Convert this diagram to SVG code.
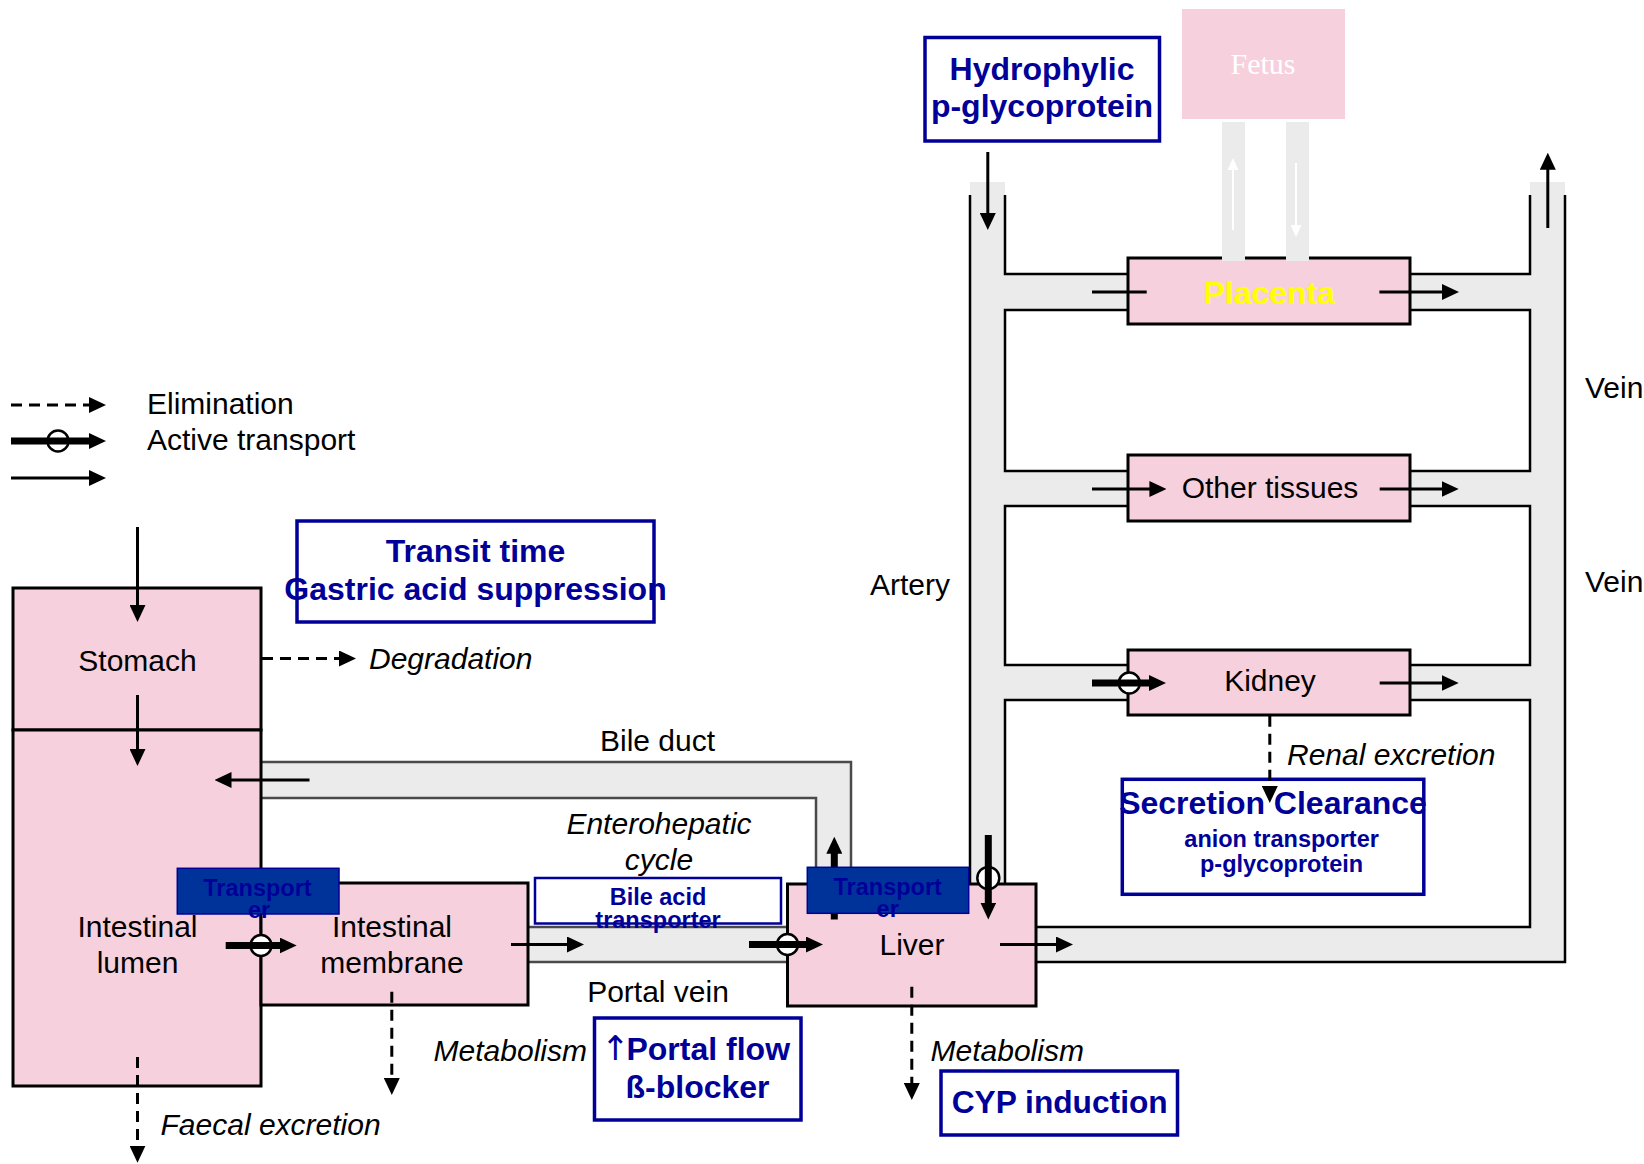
<svg xmlns="http://www.w3.org/2000/svg" width="1644" height="1164" viewBox="0 0 1644 1164">
<defs>
<marker id="ah" markerWidth="17" markerHeight="16" refX="5" refY="8" orient="auto" markerUnits="userSpaceOnUse"><path d="M0,0 L17,8 L0,16 Z" fill="#000"/></marker>
<marker id="wh" markerWidth="12" markerHeight="11" refX="4" refY="5.5" orient="auto" markerUnits="userSpaceOnUse"><path d="M0,0 L12,5.5 L0,11 Z" fill="#fff"/></marker>
</defs>
<style>
.t{font-family:"Liberation Sans",Arial,sans-serif;font-size:30px;fill:#000}
.i{font-style:italic}
.c{text-anchor:middle}
.e{text-anchor:end}
.b{font-family:"Liberation Sans",Arial,sans-serif;font-weight:bold;fill:#000099;text-anchor:middle}
.b32{font-size:32px}
.b24{font-size:23.5px}
.box{fill:#F7D0DD;stroke:#000;stroke-width:3}
.band{fill:#EBEBEB;stroke:none}
.wall{fill:none;stroke:#000;stroke-width:2.5}
.duct{fill:none;stroke:#4a4a4a;stroke-width:2.5}
.note{fill:#fff;stroke:#000099;stroke-width:3.5}
.tr{fill:#003399;stroke:#000099;stroke-width:1.5}
.a{stroke:#000;stroke-width:3;fill:none;marker-end:url(#ah)}
.p{stroke:#000;stroke-width:3;fill:none}
.d{stroke-dasharray:11 7}
.k{stroke-width:7}
.ring{fill:#fff;stroke:#000;stroke-width:2.5}
.wa{stroke:#fff;stroke-width:2;fill:none;marker-end:url(#wh)}
</style>
<rect width="1644" height="1164" fill="#fff"/>

<!-- vessels / ducts -->
<g id="bile-duct">
<path class="band" d="M261,762 H851 V884 H816 V798 H261 Z"/>
<path class="duct" d="M261,762 H851 V884"/>
<path class="duct" d="M261,798 H816 V884"/>
</g>
<g id="portal-vein">
<rect class="band" x="528" y="927" width="260" height="35"/>
<path class="duct" d="M528,927 H788 M528,962 H788"/>
</g>
<g id="circulation">
<rect class="band" x="970" y="182" width="35" height="702"/>
<rect class="band" x="1530" y="182" width="35" height="780"/>
<rect class="band" x="1005" y="274" width="525" height="36"/>
<rect class="band" x="1005" y="471" width="525" height="35"/>
<rect class="band" x="1005" y="665" width="525" height="35"/>
<rect class="band" x="1036" y="927" width="529" height="35"/>
<path class="wall" d="M970,195 V884"/>
<path class="wall" d="M1005,195 V274 H1128 M1410,274 H1530 V195"/>
<rect class="wall" x="1005" y="310" width="525" height="161" fill="#fff"/>
<rect class="wall" x="1005" y="506" width="525" height="159" fill="#fff"/>
<path class="wall" d="M1005,884 V700 H1530 V927 H1036" fill="#fff"/>
<path class="wall" d="M1565,195 V962 H1036"/>
</g>

<!-- organs -->
<g id="stomach"><rect class="box" x="13" y="588" width="248" height="142"/><text class="t c" x="137.5" y="671">Stomach</text></g>
<g id="intestinal-lumen"><rect class="box" x="13" y="730" width="248" height="356"/><text class="t c" x="137.5" y="937">Intestinal</text><text class="t c" x="137.5" y="973">lumen</text></g>
<g id="intestinal-membrane"><rect class="box" x="261" y="883" width="267" height="122"/><text class="t c" x="392" y="937">Intestinal</text><text class="t c" x="392" y="973">membrane</text></g>
<g id="liver"><rect class="box" x="787.5" y="884" width="248.5" height="122"/><text class="t c" x="912" y="955">Liver</text></g>
<g id="placenta"><rect class="box" x="1128" y="258" width="282" height="66"/><text class="b b32" x="1269" y="304" style="fill:#FFFF00">Placenta</text></g>
<g id="other-tissues"><rect class="box" x="1128" y="455" width="282" height="66"/><text class="t c" x="1270" y="498">Other tissues</text></g>
<g id="kidney"><rect class="box" x="1128" y="650" width="282" height="65"/><text class="t c" x="1270" y="691">Kidney</text></g>
<g id="fetus">
<rect x="1182" y="9" width="163" height="110" fill="#F7D0DD"/>
<text x="1263" y="74" text-anchor="middle" style="font-family:'Liberation Serif','Times New Roman',serif;font-size:30px;fill:#fff">Fetus</text>
<rect class="band" x="1222" y="122" width="23" height="139"/>
<rect class="band" x="1286" y="122" width="23" height="139"/>
<path class="wa" d="M1233,230 V166"/>
<path class="wa" d="M1296,163 V229"/>
</g>

<!-- notes -->
<g id="note-hydrophylic"><rect class="note" x="925" y="37.5" width="234.5" height="103.5"/><text class="b b32" x="1042" y="79.5">Hydrophylic</text><text class="b b32" x="1042" y="116.5">p-glycoprotein</text></g>
<g id="note-transit"><rect class="note" x="297" y="521" width="357" height="101"/><text class="b b32" x="475.5" y="562">Transit time</text><text class="b b32" x="475.5" y="600">Gastric acid suppression</text></g>
<g id="note-portal"><rect class="note" x="594.5" y="1018" width="206.5" height="102"/><text class="b b32" x="697.5" y="1060"><tspan style="font-family:'DejaVu Sans',sans-serif;font-weight:normal;font-size:34px" dx="-2">↑</tspan><tspan dx="-3">Portal flow</tspan></text><text class="b b32" x="697.5" y="1098">ß-blocker</text></g>
<g id="note-cyp"><rect class="note" x="941" y="1071" width="236.5" height="64"/><text class="b" x="1059.7" y="1113" style="font-size:31px" textLength="216" lengthAdjust="spacingAndGlyphs">CYP induction</text></g>
<g id="note-secretion"><rect class="note" x="1122.3" y="779.3" width="301.5" height="115"/><text class="b b32" x="1273" y="814">Secretion Clearance</text><text class="b b24" x="1281.6" y="847">anion transporter</text><text class="b b24" x="1281.6" y="872">p-glycoprotein</text></g>
<g id="note-bile-acid"><rect x="535" y="878" width="246" height="45.5" fill="#fff" stroke="#000099" stroke-width="2.5"/><text class="b b24" x="658" y="905">Bile acid</text><text class="b b24" x="658" y="927.7">transporter</text></g>

<!-- connectors -->
<g id="connectors">
<circle class="ring" cx="261" cy="945.5" r="10.5"/>
<circle class="ring" cx="787.5" cy="944.5" r="10.5"/>
<circle class="ring" cx="988.3" cy="878" r="11"/>
<circle class="ring" cx="1129.3" cy="683" r="10.5"/>
<path class="a" d="M137.5,527 V610"/>
<path class="a" d="M137.5,695 V754"/>
<path class="a d" d="M262,658.5 H344"/>
<path class="a" d="M309.5,780 H226.5"/>
<path class="a k" d="M225.7,945.5 H284.7"/>
<path class="a" d="M511,944.5 H572"/>
<path class="a k" d="M749,944.5 H811"/>
<path class="a k" d="M834.3,919.5 V848.7"/>
<path class="a k" d="M988.3,835 V907.5"/>
<path class="a" d="M1000,944.5 H1061"/>
<path class="a d" d="M911.8,986.7 V1088"/>
<path class="a d" d="M391.8,991.7 V1083"/>
<path class="a d" d="M137.5,1057 V1150.7"/>
<path class="a" d="M987.8,152 V218"/>
<path class="a" d="M1547.8,228 V164.7"/>
<path class="p" d="M1092,292 H1146.7"/>
<path class="a" d="M1379.4,292 H1447"/>
<path class="a" d="M1092,489 H1154.4"/>
<path class="a" d="M1379.7,489 H1446.7"/>
<path class="a k" d="M1092,683 H1154"/>
<path class="a" d="M1379.7,683 H1446.7"/>
<path class="a d" d="M1269.8,715.7 V791"/>
</g>

<!-- transporter tags -->
<g id="transporter-gut"><rect class="tr" x="177.3" y="868.3" width="161.7" height="45.7"/><text class="b b24" x="257.5" y="896">Transport</text><text class="b b24" x="259" y="918">er</text></g>
<g id="transporter-liver"><rect class="tr" x="807.3" y="867.3" width="161.4" height="46"/><text class="b b24" x="887.7" y="895">Transport</text><text class="b b24" x="887.7" y="917">er</text></g>

<!-- legend -->
<g id="legend">
<path class="a d" d="M11,405 H94"/>
<circle class="ring" cx="58" cy="441" r="10.5"/>
<path class="a k" d="M11,441 H94"/>
<path class="a" d="M11,478 H94"/>
<text class="t" x="147" y="414">Elimination</text>
<text class="t" x="147" y="450">Active transport</text>
</g>

<!-- labels -->
<g id="labels">
<text class="t i" x="369" y="669">Degradation</text>
<text class="t c" x="657.5" y="751">Bile duct</text>
<text class="t i c" x="659" y="833.5">Enterohepatic</text>
<text class="t i c" x="659" y="869.5">cycle</text>
<text class="t c" x="658" y="1002">Portal vein</text>
<text class="t i e" x="587" y="1061">Metabolism</text>
<text class="t i" x="930.5" y="1061">Metabolism</text>
<text class="t i" x="160.5" y="1135">Faecal excretion</text>
<text class="t i" x="1287" y="765">Renal excretion</text>
<text class="t e" x="950" y="595">Artery</text>
<text class="t" x="1585" y="397.5">Vein</text>
<text class="t" x="1585" y="592">Vein</text>
</g>
</svg>
